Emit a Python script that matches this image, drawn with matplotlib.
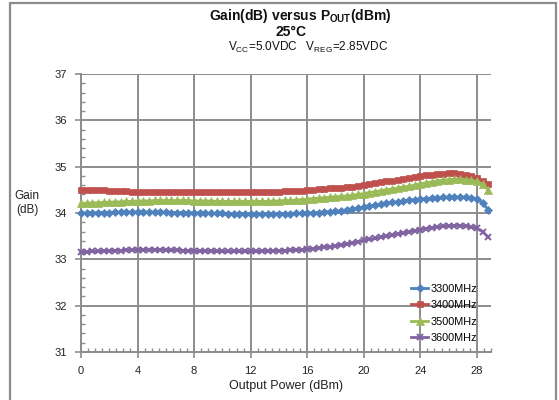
import numpy as np
import matplotlib
matplotlib.use("Agg")
import matplotlib.pyplot as plt
from matplotlib.patches import Rectangle

plt.rcParams["font.family"] = ["Liberation Sans", "DejaVu Sans"]
plt.rcParams["mathtext.fontset"] = "custom"
plt.rcParams["mathtext.rm"] = "Liberation Sans"
plt.rcParams["mathtext.bf"] = "Liberation Sans:bold"

# Output power sweep (dBm)
pout = [round(0.4 * i, 1) for i in range(73)]

gain_3300 = [
    34.00, 34.00, 34.00, 34.01, 34.01, 34.01, 34.02, 34.02, 34.02, 34.02, 34.02,
    34.02, 34.02, 34.02, 34.02, 34.02, 34.01, 34.01, 34.01, 34.01, 34.00,
    34.00, 34.00, 33.99, 33.99, 33.99, 33.98, 33.98, 33.98, 33.98, 33.98,
    33.97, 33.97, 33.97, 33.98, 33.98, 33.98, 33.98, 33.99, 33.99, 34.00,
    34.00, 34.01, 34.02, 34.03, 34.04, 34.05, 34.07, 34.09, 34.11, 34.13,
    34.15, 34.17, 34.19, 34.21, 34.23, 34.24, 34.26, 34.27, 34.29, 34.30,
    34.31, 34.32, 34.33, 34.34, 34.34, 34.35, 34.35, 34.34, 34.33, 34.31,
    34.22, 34.07,
]
gain_3400 = [
    34.50, 34.50, 34.50, 34.49, 34.49, 34.48, 34.48, 34.47, 34.47, 34.46, 34.46,
    34.46, 34.46, 34.46, 34.46, 34.46, 34.46, 34.46, 34.46, 34.46, 34.46,
    34.46, 34.46, 34.46, 34.46, 34.46, 34.46, 34.46, 34.46, 34.46, 34.46,
    34.46, 34.46, 34.46, 34.46, 34.46, 34.47, 34.47, 34.48, 34.48, 34.49,
    34.50, 34.51, 34.52, 34.53, 34.54, 34.55, 34.56, 34.57, 34.58, 34.60,
    34.62, 34.64, 34.66, 34.68, 34.70, 34.72, 34.74, 34.76, 34.78, 34.80,
    34.81, 34.83, 34.84, 34.85, 34.86, 34.86, 34.85, 34.82, 34.80, 34.76,
    34.70, 34.62,
]
gain_3500 = [
    34.21, 34.21, 34.22, 34.22, 34.23, 34.23, 34.24, 34.24, 34.25, 34.25, 34.26,
    34.26, 34.26, 34.27, 34.27, 34.27, 34.27, 34.27, 34.27, 34.27, 34.26,
    34.26, 34.26, 34.26, 34.25, 34.25, 34.25, 34.25, 34.25, 34.25, 34.25,
    34.25, 34.25, 34.25, 34.26, 34.26, 34.27, 34.27, 34.28, 34.29, 34.30,
    34.31, 34.32, 34.33, 34.34, 34.35, 34.36, 34.37, 34.38, 34.40, 34.42,
    34.44, 34.46, 34.48, 34.50, 34.52, 34.54, 34.56, 34.58, 34.60, 34.63,
    34.65, 34.67, 34.69, 34.71, 34.72, 34.73, 34.73, 34.72, 34.71, 34.68,
    34.62, 34.50,
]
gain_3600 = [
    33.15, 33.16, 33.17, 33.17, 33.18, 33.18, 33.19, 33.19, 33.20, 33.20, 33.21,
    33.21, 33.21, 33.21, 33.21, 33.20, 33.20, 33.20, 33.19, 33.19, 33.18,
    33.18, 33.18, 33.18, 33.17, 33.17, 33.17, 33.17, 33.17, 33.17, 33.17,
    33.17, 33.18, 33.18, 33.18, 33.19, 33.19, 33.20, 33.20, 33.21, 33.22,
    33.23, 33.24, 33.26, 33.27, 33.29, 33.31, 33.33, 33.35, 33.38, 33.41,
    33.43, 33.45, 33.48, 33.50, 33.52, 33.55, 33.57, 33.59, 33.62, 33.64,
    33.66, 33.68, 33.70, 33.71, 33.72, 33.73, 33.73, 33.72, 33.70, 33.67,
    33.60, 33.48,
]

series_labels = ["3300MHz", "3400MHz", "3500MHz", "3600MHz"]
x_ticks = [0, 4, 8, 12, 16, 20, 24, 28]
y_ticks = [31, 32, 33, 34, 35, 36, 37]

colors = ["#4F81BD", "#C0504D", "#9BBB59", "#8064A2"]
markers = ["D", "s", "^", "x"]
msizes = [4, 5, 5.5, 5]

fig = plt.figure(figsize=(5.59, 4.0), dpi=100)
ax = fig.add_axes([81 / 559, 1 - 352 / 400, 410 / 559, 278 / 400])

for y, lab, c, m, ms in zip([gain_3300, gain_3400, gain_3500, gain_3600],
                            series_labels, colors, markers, msizes):
    ax.plot(pout, y, color=c, lw=2, marker=m, ms=ms, mew=1.4 if m == "x" else 0.5,
            mec=c, mfc=c, label=lab, clip_on=False, zorder=3)

grid_c = "#8c8c8c"
ax.set_xlim(0, 29)
ax.set_ylim(31, 37)
ax.set_xticks(x_ticks)
ax.set_yticks(y_ticks)
ax.set_xticks(np.arange(0, 29.01, 0.5), minor=True)
ax.set_yticks(np.arange(31, 37.01, 0.2), minor=True)
ax.grid(True, which="major", color=grid_c, lw=1.4, zorder=1)
for s in ["top", "right"]:
    ax.spines[s].set_visible(False)
for s in ["left", "bottom"]:
    ax.spines[s].set_color(grid_c)
    ax.spines[s].set_linewidth(1.4)
ax.tick_params(which="major", direction="out", length=4, width=1.2, color=grid_c,
               labelsize=8, labelcolor="#222222", pad=6)
ax.tick_params(which="minor", direction="in", length=3, width=1, color=grid_c)

ax.set_xlabel("Output Power (dBm)", fontsize=9, color="#222222", labelpad=3)
fig.text(27 / 559, 1 - 203 / 400, "Gain\n(dB)", ha="center", va="center",
         fontsize=8.5, color="#222222", linespacing=1.2)

leg = ax.legend(loc="upper left", bbox_to_anchor=(411 / 559, 1 - 284 / 400),
                bbox_transform=fig.transFigure, frameon=False,
                fontsize=7.8, handlelength=1.6, handletextpad=0.25,
                labelspacing=0.58, borderpad=0, borderaxespad=0)

fig.text(300 / 559, 1 - 16 / 400, r"Gain(dB) versus P$_{\mathbf{OUT}}$(dBm)",
         ha="center", va="center", fontsize=10, fontweight="bold", color="#111111")
fig.text(291 / 559, 1 - 32 / 400, "25°C", ha="center", va="center",
         fontsize=10, fontweight="bold", color="#111111")
fig.text(308 / 559, 1 - 47 / 400,
         r"V$_{\mathrm{CC}}$=5.0VDC   V$_{\mathrm{REG}}$=2.85VDC",
         ha="center", va="center", fontsize=8.5, color="#111111")

fig.patches.append(Rectangle((10 / 559, -0.05), 546 / 559, 1.05 - 3 / 400,
                             transform=fig.transFigure, fill=False,
                             edgecolor=grid_c, lw=1.6))

fig.savefig("out.png", dpi=100)
